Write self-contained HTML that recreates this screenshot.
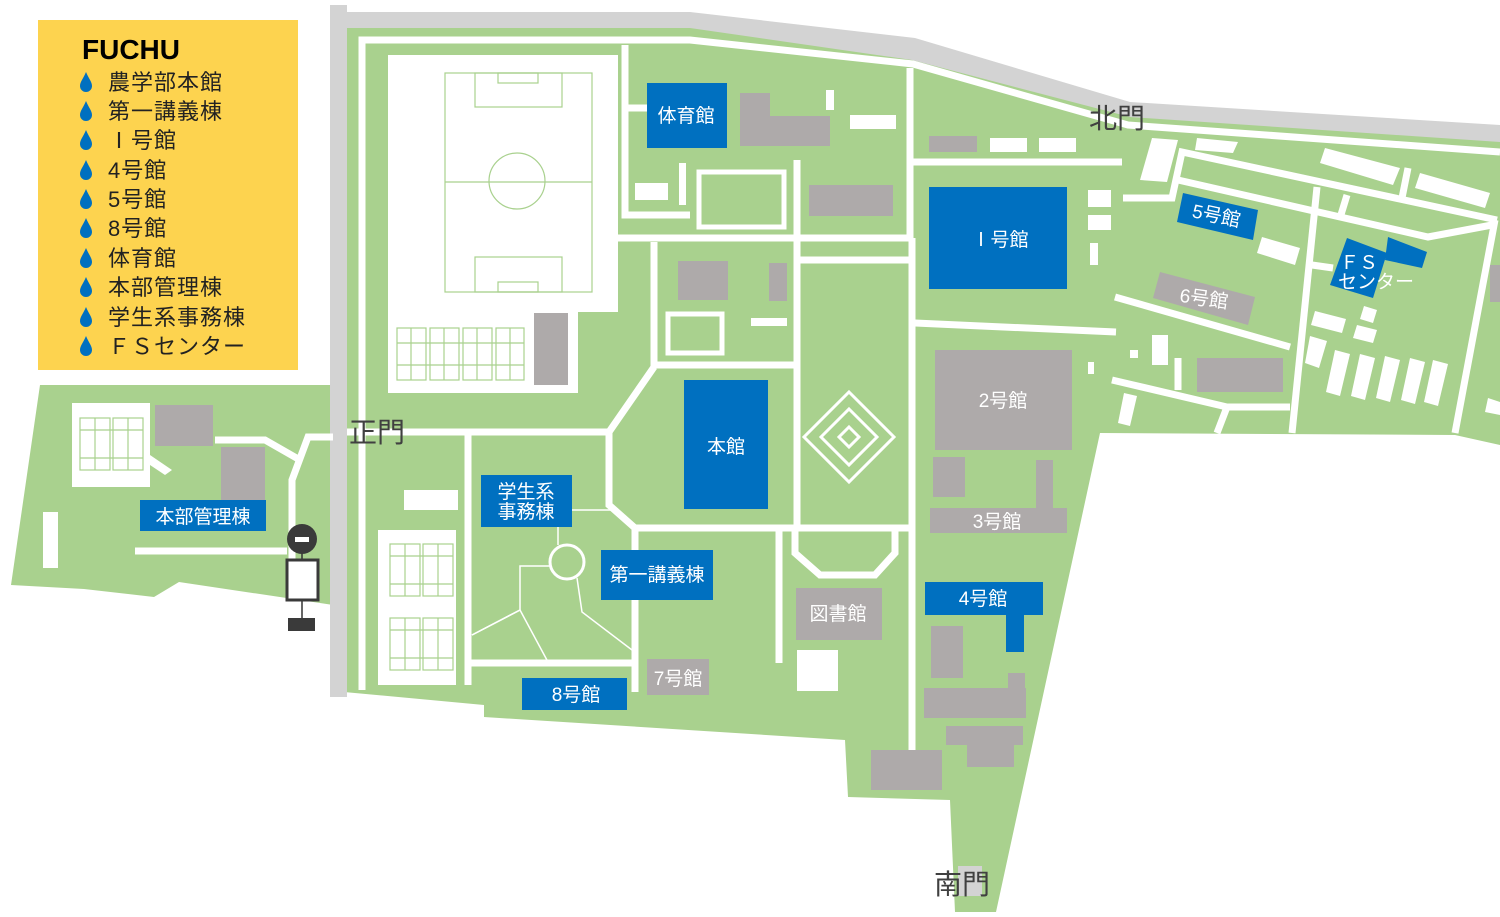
<!DOCTYPE html>
<html><head><meta charset="utf-8"><style>
html,body{margin:0;padding:0;background:#fff;width:1500px;height:917px;overflow:hidden}
svg{display:block}
text{font-family:"Liberation Sans","Noto Sans CJK JP",sans-serif}
</style></head><body>
<svg width="1500" height="917" viewBox="0 0 1500 917" xmlns="http://www.w3.org/2000/svg">
<!-- legend -->
<rect x="38" y="20" width="260" height="350" fill="#fdd34f"/>
<text x="82" y="59" font-size="28" font-weight="bold" fill="#000" style="font-family:'Liberation Sans',sans-serif">FUCHU</text>
<g fill="#0070c0">
<path id="d" d="M86 72 C 83 79, 80 82, 80 86 A6 6 0 0 0 92 86 C 92 82, 89 79, 86 72Z"/>
<use href="#d" y="29"/><use href="#d" y="58"/><use href="#d" y="88"/><use href="#d" y="117"/><use href="#d" y="146"/><use href="#d" y="176"/><use href="#d" y="205"/><use href="#d" y="235"/><use href="#d" y="264"/>
</g>
<g font-size="22" fill="#222" letter-spacing="1">
<text x="108" y="90">農学部本館</text>
<text x="108" y="119">第一講義棟</text>
<text x="108" y="148">Ⅰ号館</text>
<text x="108" y="178">4号館</text>
<text x="108" y="207">5号館</text>
<text x="108" y="236">8号館</text>
<text x="108" y="266">体育館</text>
<text x="108" y="295">本部管理棟</text>
<text x="108" y="325">学生系事務棟</text>
<text x="108" y="354">ＦＳセンター</text>
</g>

<!-- green areas -->
<g fill="#a9d18e">
<polygon points="345,25 690,25 915,55 1130,110 1500,135 1500,445 1455,435 1100,433 996,912 955,912 950,800 848,797 845,740 484,717 484,705 344,692"/>
<polygon points="40,385 340,385 340,606 179,582 154,597 84,589 11,585"/>
</g>
<!-- gray boundary roads -->
<polygon points="330,12 690,12 915,38 1130,102 1500,125 1500,142 1130,117 912,60 690,28 347,28" fill="#d3d3d3"/>
<rect x="330" y="5" width="17" height="692" fill="#d3d3d3"/>
<rect x="958" y="866" width="24" height="30" fill="#d3d3d3"/>

<!-- field area -->
<polygon points="388,55 618,55 618,312 578,312 578,393 388,393" fill="#fff"/>
<g fill="none" stroke="#a9d18e" stroke-width="1.2">
<rect x="445" y="73" width="147" height="219"/>
<line x1="445" y1="182" x2="592" y2="182"/>
<circle cx="517" cy="181" r="28"/>
<rect x="475" y="73" width="87" height="34"/><rect x="498" y="73" width="40" height="10"/>
<rect x="475" y="257" width="87" height="35"/><rect x="498" y="282" width="40" height="10"/>
<rect x="397" y="328" width="29" height="52"/><rect x="430" y="328" width="29" height="52"/><rect x="463" y="328" width="29" height="52"/><rect x="496" y="328" width="28" height="52"/>
<line x1="397" y1="343" x2="524" y2="343"/><line x1="397" y1="365" x2="524" y2="365"/>
<line x1="411" y1="328" x2="411" y2="380"/><line x1="444" y1="328" x2="444" y2="380"/><line x1="477" y1="328" x2="477" y2="380"/><line x1="510" y1="328" x2="510" y2="380"/>
</g>
<rect x="534" y="313" width="34" height="72" fill="#aeaaaa"/>

<!-- white roads -->
<g fill="none" stroke="#fff" stroke-width="7" stroke-linejoin="miter">
<polyline points="362,690 362,40 690,40 913,64 1128,125 1500,152"/>
<polyline points="625,45 625,215 690,215"/>
<line x1="625" y1="108" x2="647" y2="108"/>
<line x1="618" y1="238" x2="910" y2="238"/>
<polyline points="654,242 654,365 795,365"/>
<polyline points="654,367 609,432 609,505 635,528 910,528"/>
<line x1="797" y1="160" x2="797" y2="528"/>
<line x1="797" y1="260" x2="910" y2="260"/>
<line x1="910" y1="68" x2="910" y2="240"/>
<line x1="912" y1="238" x2="912" y2="750"/>
<line x1="347" y1="432" x2="609" y2="432"/>
<line x1="468" y1="434" x2="468" y2="685"/>
<line x1="635" y1="528" x2="635" y2="692"/>
<line x1="470" y1="663" x2="635" y2="663"/>
<line x1="779" y1="530" x2="779" y2="663"/>
<polyline points="795,530 795,553 820,575 875,575 895,553 895,530"/>
<line x1="910" y1="162" x2="1122" y2="162"/>
<line x1="915" y1="323" x2="1116" y2="332"/>
<polyline points="1123,198 1172,198 1182,152 1497,220"/>
<polyline points="1178,180 1428,237 1492,225"/>
<line x1="1317" y1="187" x2="1292" y2="433"/>
<line x1="1495" y1="220" x2="1455" y2="433"/>
<line x1="1115" y1="297" x2="1290" y2="347"/>
<polyline points="1112,380 1227,407 1290,407"/>
<line x1="1227" y1="407" x2="1217" y2="433"/>
<line x1="1178" y1="358" x2="1178" y2="390"/>
<line x1="1312" y1="265" x2="1333" y2="268"/>
<line x1="1347" y1="195" x2="1340" y2="218"/>
<line x1="1408" y1="168" x2="1402" y2="198"/>
<!-- left area -->
<polyline points="215,440 265,440 300,460"/>
<polyline points="333,437 308,437 292,480 292,600"/>
<line x1="135" y1="551" x2="287" y2="551"/>
</g>
<g fill="none" stroke="#fff" stroke-width="1.5">
<polyline points="572,510 612,510"/>
<line x1="558" y1="527" x2="558" y2="545"/>
<polyline points="550,566 520,566 520,610 472,635"/>
<polyline points="520,610 548,662"/>
<polyline points="577,578 582,612 632,650"/>
<line x1="520" y1="610" x2="472" y2="635"/>
</g>
<circle cx="567" cy="562" r="17" fill="none" stroke="#fff" stroke-width="3"/>

<!-- diamonds -->
<g fill="none" stroke="#fff" stroke-width="3">
<polygon points="849,392 894,437 849,482 804,437"/>
<polygon points="849,409 877,437 849,465 821,437"/>
<polygon points="849,427 859,437 849,447 839,437"/>
</g>

<!-- white features -->
<g fill="#fff">
<rect x="850" y="115" width="46" height="14"/>
<rect x="826" y="90" width="8" height="20"/>
<rect x="635" y="183" width="33" height="17"/>
<rect x="679" y="163" width="7" height="42"/>
<rect x="751" y="318" width="36" height="8"/>
<rect x="990" y="138" width="37" height="14"/>
<rect x="1039" y="138" width="37" height="14"/>
<rect x="1088" y="190" width="23" height="17"/>
<rect x="1088" y="215" width="23" height="15"/>
<rect x="1090" y="243" width="8" height="22"/>
<rect x="1130" y="350" width="8" height="8"/>
<rect x="1152" y="335" width="16" height="30"/>
<rect x="1088" y="362" width="6" height="12"/>
<polygon points="1124,393 1137,396 1130,426 1118,423"/>
<polygon points="1152,138 1178,140 1167,182 1140,180"/>
<polygon points="1197,138 1238,142 1233,153 1195,150"/>
<polygon points="1325,148 1400,168 1393,185 1320,163"/>
<polygon points="1420,173 1490,193 1485,208 1415,188"/>
<polygon points="1262,237 1300,248 1295,265 1257,253"/>
<polygon points="1315,311 1346,319 1342,333 1311,325"/>
<polygon points="1364,306 1377,310 1373,323 1360,319"/>
<polygon points="1357,325 1377,330 1373,343 1353,338"/>
<polygon points="1310,336 1327,341 1319,368 1305,363"/>
<polygon points="1335,350 1350,354 1340,396 1326,392"/>
<polygon points="1360,354 1375,358 1365,400 1351,396"/>
<polygon points="1385,356 1400,360 1390,402 1376,398"/>
<polygon points="1410,358 1425,362 1415,404 1401,400"/>
<polygon points="1433,360 1448,364 1438,406 1424,402"/>
<polygon points="1488,398 1500,402 1500,415 1485,412"/>
<rect x="404" y="490" width="54" height="20"/>
<rect x="797" y="650" width="41" height="41"/>
<rect x="378" y="530" width="78" height="155"/>
<rect x="72" y="403" width="78" height="84"/>
<polygon points="150,455 172,470 165,475 150,465"/>
<rect x="43" y="512" width="15" height="56"/>
</g>
<g fill="none" stroke="#fff" stroke-width="5">
<rect x="699" y="172" width="85" height="55"/>
<rect x="668" y="314" width="54" height="39"/>
</g>
<!-- court lines -->
<g fill="none" stroke="#a9d18e" stroke-width="1.2">
<rect x="390" y="544" width="30" height="52"/><rect x="423" y="544" width="30" height="52"/>
<rect x="390" y="618" width="30" height="52"/><rect x="423" y="618" width="30" height="52"/>
<line x1="390" y1="556" x2="453" y2="556"/><line x1="390" y1="584" x2="453" y2="584"/>
<line x1="390" y1="630" x2="453" y2="630"/><line x1="390" y1="658" x2="453" y2="658"/>
<line x1="405" y1="544" x2="405" y2="596"/><line x1="438" y1="544" x2="438" y2="596"/>
<line x1="405" y1="618" x2="405" y2="670"/><line x1="438" y1="618" x2="438" y2="670"/>
<rect x="80" y="418" width="30" height="52"/><rect x="113" y="418" width="30" height="52"/>
<line x1="80" y1="430" x2="143" y2="430"/><line x1="80" y1="458" x2="143" y2="458"/>
<line x1="95" y1="418" x2="95" y2="470"/><line x1="128" y1="418" x2="128" y2="470"/>
</g>

<!-- gray buildings -->
<g fill="#aeaaaa">
<rect x="740" y="93" width="30" height="53"/><rect x="740" y="116" width="90" height="30"/>
<rect x="809" y="185" width="84" height="31"/>
<rect x="678" y="261" width="50" height="39"/>
<rect x="769" y="263" width="18" height="38"/>
<rect x="929" y="136" width="48" height="16"/>
<rect x="935" y="350" width="137" height="100"/>
<rect x="933" y="457" width="32" height="40"/>
<rect x="1036" y="460" width="17" height="50"/>
<rect x="930" y="508" width="137" height="25"/>
<polygon points="1160,272 1255,297 1248,325 1153,298"/>
<rect x="1197" y="358" width="86" height="34"/>
<rect x="1490" y="265" width="10" height="37"/>
<rect x="796" y="588" width="86" height="52"/>
<rect x="647" y="659" width="62" height="36"/>
<rect x="931" y="626" width="32" height="52"/>
<rect x="924" y="688" width="102" height="30"/><rect x="1008" y="673" width="17" height="17"/>
<rect x="946" y="726" width="77" height="19"/><rect x="967" y="733" width="47" height="34"/>
<rect x="871" y="750" width="71" height="40"/>
<rect x="155" y="405" width="58" height="41"/>
<rect x="221" y="447" width="44" height="53"/>
</g>

<!-- blue buildings -->
<g fill="#0070c0">
<rect x="647" y="83" width="80" height="65"/>
<rect x="929" y="187" width="138" height="102"/>
<rect x="684" y="380" width="84" height="129"/>
<rect x="481" y="475" width="91" height="52"/>
<rect x="601" y="550" width="112" height="50"/>
<rect x="140" y="500" width="126" height="31"/>
<rect x="522" y="678" width="105" height="32"/>
<rect x="925" y="582" width="118" height="33"/><rect x="1006" y="614" width="18" height="38"/>
<polygon points="1183,193 1258,210 1253,240 1177,222"/>
<polygon points="1347,238 1387,253 1373,298 1330,285"/>
<polygon points="1388,237 1427,252 1422,268 1385,260"/>
</g>

<!-- building labels -->
<g fill="#fff" font-size="19" text-anchor="middle">
<text x="686" y="122">体育館</text>
<text x="1000" y="246">Ⅰ号館</text>
<text x="726" y="453">本館</text>
<text x="526" y="498">学生系</text>
<text x="526" y="518">事務棟</text>
<text x="657" y="581">第一講義棟</text>
<text x="203" y="523">本部管理棟</text>
<text x="576" y="701">8号館</text>
<text x="983" y="605">4号館</text>
<text x="1215" y="222" transform="rotate(12 1215 222)">5号館</text>
<text x="1003" y="407">2号館</text>
<text x="997" y="528">3号館</text>
<text x="1203" y="305" transform="rotate(8 1203 305)">6号館</text>
<text x="838" y="620">図書館</text>
<text x="678" y="685">7号館</text>
</g>
<g fill="#fff" font-size="19">
<text x="1340" y="269">ＦＳ</text>
<text x="1338" y="288">センター</text>
</g>

<!-- gate labels -->
<g fill="#404040" font-size="28">
<text x="349" y="442">正門</text>
<text x="1089" y="128">北門</text>
<text x="934" y="894">南門</text>
</g>

<!-- signal icon -->
<line x1="302" y1="545" x2="302" y2="625" stroke="#333" stroke-width="1.5"/>
<ellipse cx="302" cy="539" rx="15" ry="15" fill="#3a3a3a"/>
<rect x="295" y="537" width="14" height="5" fill="#fff"/>
<rect x="287" y="560" width="31" height="40" fill="#fff" stroke="#3a3a3a" stroke-width="3"/>
<rect x="288" y="618" width="27" height="13" fill="#3a3a3a"/>
</svg>
</body></html>
